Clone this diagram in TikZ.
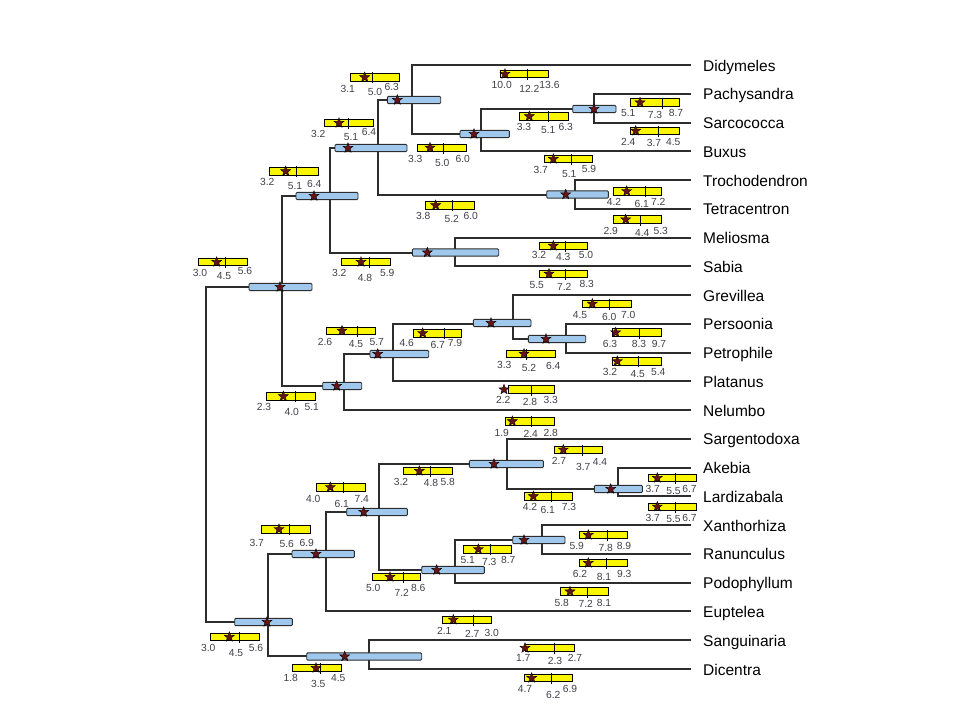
\documentclass[tikz,border=0pt]{standalone}
\usepackage{fontspec}
\setmainfont{Liberation Sans}
\usetikzlibrary{shapes.geometric}
\definecolor{branch}{RGB}{45,45,45}
\definecolor{hpdblue}{RGB}{160,200,236}
\definecolor{hpdyellow}{RGB}{250,245,0}
\definecolor{starred}{RGB}{105,20,20}
\definecolor{numgray}{RGB}{65,65,75}
\tikzset{
 branchline/.style={draw=branch, line width=2pt},
 bluebar/.style={draw=branch, fill=hpdblue, line width=0.9pt, rounded corners=1pt},
 yellowbar/.style={draw=black, fill=hpdyellow, line width=0.8pt},
 medtick/.style={draw=black, line width=0.9pt},
 agestar/.style={star, star points=5, star point ratio=2.4, minimum size=10.5pt, inner sep=0pt, fill=starred, draw=black, line width=0.4pt},
 numlabel/.style={font=\fontsize{10.3}{12}\selectfont, text=numgray, inner sep=0pt},
 taxon/.style={font=\fontsize{15.5}{18}\selectfont, anchor=base west, inner sep=0pt},
}
\begin{document}
\begin{tikzpicture}[x=1pt,y=-1pt]
\useasboundingbox (0,0) rectangle (960,720);
\fill[white] (0,0) rectangle (960,720);

% tips and taxon labels
\foreach \nm/\yy/\lab in {Did/65/Didymeles, Pac/93.8/Pachysandra, Sar/122.5/Sarcococca, Bux/151.3/Buxus, Tro/180/Trochodendron, Tet/208.8/Tetracentron, Mel/237.6/Meliosma, Sab/266.3/Sabia, Gre/295.1/Grevillea, Per/323.8/Persoonia, Pet/352.6/Petrophile, Pla/381.4/Platanus, Nel/410.1/Nelumbo, Sgd/438.9/Sargentodoxa, Ake/467.6/Akebia, Lar/496.4/Lardizabala, Xan/525.2/Xanthorhiza, Ran/553.9/Ranunculus, Pod/582.7/Podophyllum, Eup/611.4/Euptelea, San/640.2/Sanguinaria, Dic/669/Dicentra}
{
  \coordinate (t\nm) at (691,\yy);
  \node[taxon] (l\nm) at (703,\yy+6) {\lab};
}

% internal nodes
\coordinate (nR) at (205.5,454);
\coordinate (nA) at (282,287);
\coordinate (nC) at (330,196);
\coordinate (nD) at (378,148);
\coordinate (nE) at (412,100);
\coordinate (nF) at (481,133.5);
\coordinate (nG) at (594,109);
\coordinate (nT) at (575,194.5);
\coordinate (nM) at (455,252.5);
\coordinate (nN) at (344,386);
\coordinate (nO) at (393,354);
\coordinate (nP) at (513,323.5);
\coordinate (nQ) at (566,338.5);
\coordinate (nB) at (268,621.5);
\coordinate (nH) at (326,554);
\coordinate (nI) at (379,512);
\coordinate (nJ) at (507,464);
\coordinate (nK) at (369,656);
\coordinate (nAk) at (618,488.5);
\coordinate (nL) at (455,569.5);
\coordinate (nX) at (542,540);

% branches
\foreach \p/\a/\b in {R/nA/nB, A/nC/nN, C/nD/nM, D/nE/nT, E/tDid/nF, F/nG/tBux, G/tPac/tSar, T/tTro/tTet, M/tMel/tSab, N/nO/tNel, O/nP/tPla, P/tGre/nQ, Q/tPer/tPet, B/nH/nK, H/nI/tEup, I/nJ/nL, J/tSgd/nAk, Ak/tAke/tLar, L/nX/tPod, X/tXan/tRan, K/tSan/tDic}
  \draw[branchline] (\a) -| (n\p) |- (\b);

% blue node bars
\foreach \nm/\xa/\xb/\yy/\st in {A/249/312/287/280, C/296/358/196/314, D/335/407/148/348, E/387.3/440.7/100/397.3, F/460/509.3/134/474, G/572.7/616/109/594, T/546.7/608.3/194.5/565.7, M/412.3/498.7/252.5/427.3, N/322.7/361.7/386/336.7, O/370/428.7/354/377.7, P/473.3/531/323/491, Q/528.3/585.7/339/546, B/234.7/292.3/622/267, H/292/354.3/554/316, I/346.7/407.3/512/363.7, J/469.3/543.3/464/494, Ak/594.3/642.3/489/610.7, L/421.7/484.3/570/436.7, X/512.7/565/540/524, K/306.7/421.7/656.5/344.7}
{
  \draw[bluebar] (\xa,\yy-3.6) rectangle (\xb,\yy+3.6);
  \node[agestar] (bs\nm) at (\st,\yy) {};
}

% yellow calibration bars
\foreach \xa/\xb/\yy/\tk/\st/\na/\pa/\qa/\nb/\pb/\qb/\nc/\pc/\qc [count=\i] in {
350/399/77.3/372.3/364.7/3.1/347.7/89/5.0/375/92/6.3/391.7/86.7,
324.3/373.3/123/348/339/3.2/318.3/134/5.1/351/137.3/6.4/369/132.3,
269.3/318/171.3/296/285.7/3.2/267.3/182.3/5.1/295/186/6.4/314.3/184,
417.3/466/147.7/443.7/430/3.3/415.3/159.3/5.0/442.3/163.3/6.0/462.7/158.7,
500/548.3/74/527.7/505/10.0/501.7/85/12.2/529.3/88.7/13.6/549.5/85,
519.3/568.3/116.3/548.3/529.3/3.3/524/126.7/5.1/548.3/130/6.3/565.7/126.7,
630.7/679.3/102.5/662.3/640/5.1/628.3/113.3/7.3/655/115/8.7/676/113.3,
630.7/679.3/130.8/658.3/635.7/2.4/628.3/141.7/3.7/654/142.7/4.5/673.3/141.7,
544/592.7/159/571/553.3/3.7/540.7/170/5.1/569.3/174/5.9/589/169.3,
613.3/661.7/191.2/645/626.7/4.2/614/202/6.1/641.7/204/7.2/658.3/202,
425.7/474/205.3/452.7/435.7/3.8/423.3/216/5.2/451.7/219.3/6.0/470.7/216,
613.3/661.7/219.5/640/625.7/2.9/610.7/230.7/4.4/642.3/232.7/5.3/660.7/230.7,
539/587.7/245.8/565.7/553.3/3.2/539/255/4.3/563.3/257.3/5.0/586/255,
539/587.7/273.8/565.7/549/5.5/536.7/285/7.2/564.3/286.7/8.3/586.7/284.3,
341.7/390.7/262/369/361/3.2/339.3/273.3/4.8/365/278.3/5.9/387.3/273.3,
198.3/247.3/262/225.7/216.7/3.0/200/272.7/4.5/224/276/5.6/245/271,
326.7/375.7/330.7/357.7/342/2.6/325/341.7/4.5/356/344.3/5.7/376.7/341.7,
413.3/461.7/333.2/444.3/422.7/4.6/406.7/342.7/6.7/437.7/345/7.9/455/342.7,
582.7/631/303.8/609.3/592.3/4.5/580/315/6.0/609.3/317.3/7.0/628.3/315,
612.3/661/332.5/639.3/615.7/6.3/610/344/8.3/639/344/9.7/659/344,
506.7/555/353.8/526/524/3.3/504.3/365/5.2/529/368.3/6.4/553.3/366,
612.3/661/361.2/638.3/617.3/3.2/610/371.7/4.5/637.7/374.3/5.4/658.3/371.7,
508.3/554/389.5/531/504/2.2/503.3/400/2.8/530/402.3/3.3/550.7/400,
266.7/315.7/396.3/295/283.3/2.3/264/407.3/4.0/291.7/412.3/5.1/311.7/407.3,
505.7/554/421.3/531.7/512.3/1.9/501.7/433.3/2.4/530.7/434/2.8/550.7/432.7,
554.3/602.7/449.7/582.3/563.3/2.7/559/460.7/3.7/583.3/466.7/4.4/600/461.7,
403.3/452.3/471/430.7/419.3/3.2/401/481.7/4.8/431/482.7/5.8/447.7/481.7,
524.3/572.7/496.3/551.7/533.3/4.2/530/506.7/6.1/547.7/510/7.3/569/506.7,
648.3/696/478/675/657.3/3.7/652.7/489.3/5.5/673.5/490.7/6.7/689.5/489.3,
648.3/696/506.7/675/657.3/3.7/652.7/518.3/5.5/673.5/519.3/6.7/689.5/518.3,
579/627.7/535/607.3/588.3/5.9/576.7/546/7.8/605.7/547.7/8.9/624/546,
316.7/365/487.2/343.3/330.3/4.0/313.3/499.3/6.1/341.7/504/7.4/361.7/499.3,
261/310/529.2/289.3/279/3.7/256.7/542.7/5.6/286.7/544/6.9/306.7/542.7,
463.3/511.7/549.2/490/478.3/5.1/467.7/560/7.3/489.3/561.7/8.7/508.3/560,
579/627.7/563/606/588.3/6.2/580/574/8.1/604/577.3/9.3/624.3/574,
372.3/420.7/577/403.3/390/5.0/373.3/588.3/7.2/401.7/593.3/8.6/418.3/588.3,
560/608.3/591.5/587.3/570/5.8/561.7/602.7/7.2/585.7/604.3/8.1/604/602.7,
442.7/491/619.7/473.3/453.3/2.1/444.3/630.7/2.7/472.3/634.3/3.0/491.7/632.7,
525/574.3/648/554/525/1.7/523.3/658.3/2.3/555/660.7/2.7/575/658.3,
524.3/572.7/678/551.7/531.7/4.7/525/689.3/6.2/553.3/695/6.9/570/689.3,
210.7/259.3/637/239.3/229.3/3.0/208.3/648.3/4.5/236/653.3/5.6/256/648.3,
292.7/341.7/668/320/316/1.8/290.7/678.3/3.5/318.3/684/4.5/338.3/678.3}
{
  \draw[yellowbar] (\xa,\yy-3.7) rectangle (\xb,\yy+3.7);
  \draw[medtick] (\tk,\yy-5) -- (\tk,\yy+6);
  \node[agestar] (ys\i) at (\st,\yy) {};
  \node[numlabel] (ya\i) at (\pa,\qa) {\na};
  \node[numlabel] (yb\i) at (\pb,\qb) {\nb};
  \node[numlabel] (yc\i) at (\pc,\qc) {\nc};
}
\end{tikzpicture}
\end{document}
